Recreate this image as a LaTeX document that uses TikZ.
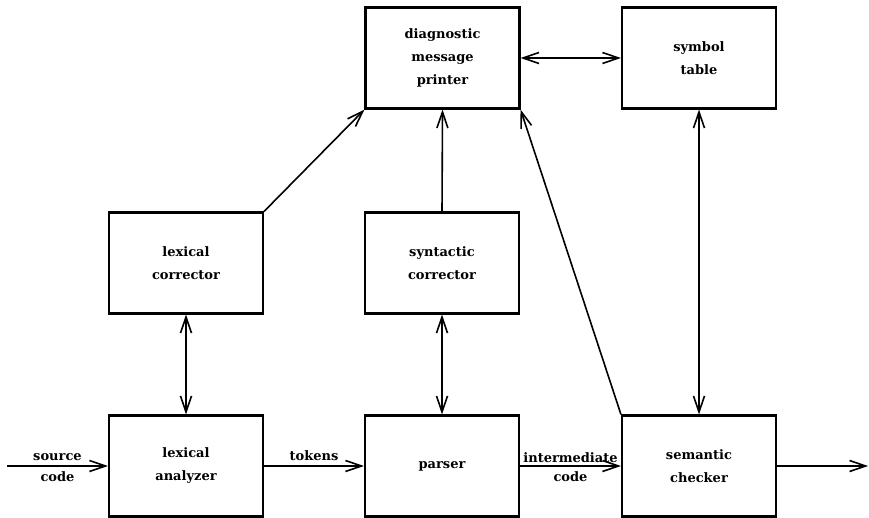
\documentclass[tikz,border=0pt]{standalone}
\usepackage{fontspec}
\setmainfont{DejaVu Serif}
\usetikzlibrary{arrows.meta}
\begin{document}
\begin{tikzpicture}[x=1pt,y=-1pt,
  box/.style={draw,line width=2.1pt,minimum width=154pt,minimum height=101pt,inner sep=0pt,align=center,
    font=\bfseries\fontsize{13}{23}\selectfont},
  conn/.style={line width=1.6pt},
  lbl/.style={font=\bfseries\fontsize{13}{23}\selectfont,inner sep=5pt},
  >={Straight Barb[length=16pt,width=11pt]}]
\useasboundingbox (0,0) rectangle (869,518);
\node[box] (dmp) at (442.5,58) {diagnostic\\message\\printer};
\node[box] (st) at (699,58) {symbol\\table};
\node[box] (lc) at (186,263) {lexical\\corrector};
\node[box] (sc) at (442,263) {syntactic\\corrector};
\node[box] (la) at (186,466) {lexical\\analyzer};
\node[box] (pa) at (442,466) {parser};
\node[box] (se) at (699,466) {semantic\\checker};
\coordinate (src) at (7,466);
\coordinate (out) at (868,466);
\draw[conn,->] (src) -- (la.west) node[lbl,midway,above] {source} node[lbl,midway,below] {code};
\draw[conn,->] (la.east) -- (pa.west) node[lbl,midway,above] {tokens};
\draw[conn,->] (pa.east) -- (se.west) node[lbl,midway,above,inner sep=3pt] {intermediate} node[lbl,midway,below] {code};
\draw[conn,->] (se.east) -- (out);
\draw[conn,<->] (lc.south) -- (la.north);
\draw[conn,<->] (sc.south) -- (pa.north);
\draw[conn,<->] (st.south) -- (se.north);
\draw[conn,<->] (dmp.east) -- (st.west);
\draw[conn,->] (sc.north) -- (dmp.south);
\draw[conn,->] (lc.north east) -- (dmp.south west);
\draw[conn,->] (se.north west) -- (dmp.south east);
\end{tikzpicture}
\end{document}
